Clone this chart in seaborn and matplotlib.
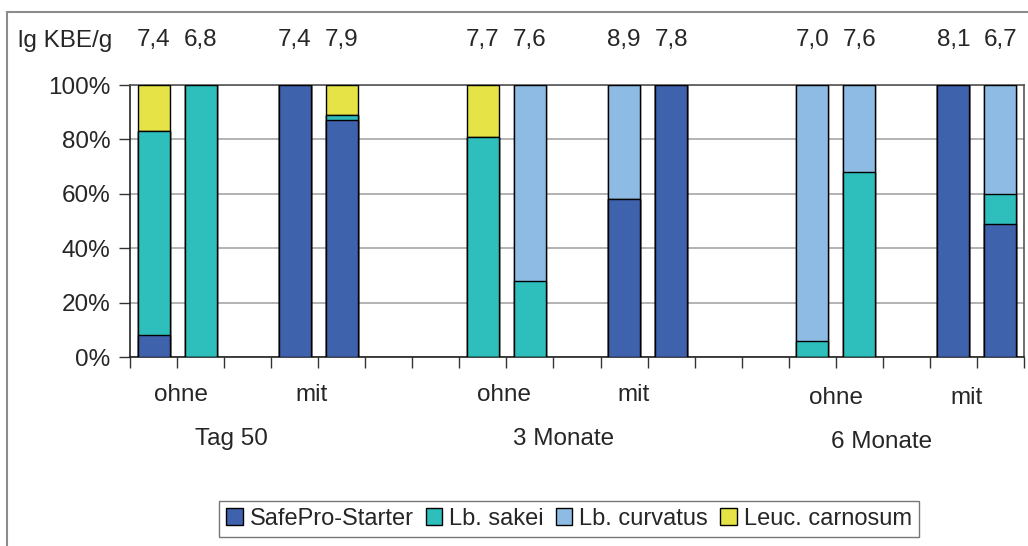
import matplotlib
matplotlib.use("Agg")
import matplotlib.pyplot as plt
import matplotlib.ticker as mticker
from matplotlib.patches import Rectangle, Patch
import pandas as pd
import seaborn as sns

# ── Data ────────────────────────────────────────────────────────────────────
groups    = ["Tag 50", "3 Monate", "6 Monate"]
subgroups = ["ohne", "mit"]
species   = ["SafePro-Starter", "Lb. sakei", "Lb. curvatus", "Leuc. carnosum"]

safepro  = [8, 0, 100, 87, 0, 0, 58, 100, 0, 0, 100, 49]
sakei    = [75, 100, 0, 2, 81, 28, 0, 0, 6, 68, 0, 11]
curvatus = [0, 0, 0, 0, 0, 72, 42, 0, 94, 32, 0, 40]
leuc     = [17, 0, 0, 11, 19, 0, 0, 0, 0, 0, 0, 0]
kbe      = ["7,4", "6,8", "7,4", "7,9", "7,7", "7,6",
            "8,9", "7,8", "7,0", "7,6", "8,1", "6,7"]

colors = ["#3F62AC", "#2EBEBC", "#8DBBE3", "#E6E346"]

# label nudges (in slot units) to mimic the original category-label placement
sub_shift   = [[0.08, -0.15], [-0.05, -0.29], [0.0, -0.23]]
group_shift = [0.15, 0.22, -0.02]

sns.set_theme(style="white")
plt.rcParams["font.family"] = ["Liberation Sans", "DejaVu Sans"]
FS = 17.5

# slot layout: 2 bars per subgroup, 1 empty slot between subgroups, 2 between groups
n_slots = 19
slots = []
for g in range(len(groups)):
    for s in range(len(subgroups)):
        for i in range(2):
            slots.append(7 * g + 3 * s + i)
order = [f"s{k}" for k in range(n_slots)]

df = pd.DataFrame({"slot": [f"s{k}" for k in slots],
                   "SafePro": safepro, "sakei": sakei,
                   "curvatus": curvatus, "leuc": leuc})
df["c1"] = df["SafePro"]
df["c2"] = df["c1"] + df["sakei"]
df["c3"] = df["c2"] + df["curvatus"]
df["c4"] = df["c3"] + df["leuc"]

fig = plt.figure(figsize=(10.28, 5.46), dpi=100)
ax = fig.add_axes([130 / 1028, 1 - 357 / 546, 894 / 1028, 272 / 546])

# stacked bars: draw cumulative totals from the top layer down
for col, c in zip(["c4", "c3", "c2", "c1"], colors[::-1]):
    sns.barplot(data=df, x="slot", y=col, order=order, color=c,
                width=0.68, edgecolor="black", linewidth=1.0,
                saturation=1, ax=ax, zorder=3)

ax.set_ylim(0, 100)
ax.set_xlim(-0.5, n_slots - 0.5)
ax.set_yticks(range(0, 101, 20))
ax.yaxis.set_major_formatter(mticker.FuncFormatter(lambda v, p: f"{v:.0f}%"))
ax.yaxis.grid(True, color="#A6A6A6", linewidth=1.2, zorder=0)
ax.set_axisbelow(True)
ax.set_xlabel("")
ax.set_ylabel("")
ax.set_xticks([k + 0.5 for k in range(-1, n_slots)])
ax.set_xticklabels([])
ax.tick_params(axis="x", direction="out", length=8, width=1, color="#333333", bottom=True)
ax.tick_params(axis="y", direction="out", length=8, width=1, color="#333333",
               left=True, labelsize=FS, pad=6)
for sp in ["left", "bottom"]:
    ax.spines[sp].set_color("#222222")
    ax.spines[sp].set_linewidth(1.2)
for sp in ["top", "right"]:
    ax.spines[sp].set_color("#555555")
    ax.spines[sp].set_linewidth(1.2)

# top labels (lg KBE/g)
trans = ax.get_xaxis_transform()
for k, lab in zip(slots, kbe):
    ax.text(k, 1.165, lab, transform=trans, ha="center", va="center", fontsize=FS)
fig.text(18 / 1028, 1 - 41 / 546, "lg KBE/g", ha="left", va="center", fontsize=FS)

# subgroup and group labels
for g, gname in enumerate(groups):
    for s, sname in enumerate(subgroups):
        ax.text(7 * g + 3 * s + 0.5 + sub_shift[g][s], -0.14 - 0.012 * (g == 2), sname,
                transform=trans, ha="center", va="center", fontsize=FS)
    ax.text(7 * g + 1.5 + group_shift[g], -0.30 - 0.012 * (g == 2), gname,
            transform=trans, ha="center", va="center", fontsize=FS)

# legend
handles = [Patch(facecolor=c, edgecolor="black", linewidth=1) for c in colors]
fig.legend(handles, species, loc="center", bbox_to_anchor=(569 / 1028, 1 - 519 / 546),
           ncol=4, frameon=True, fancybox=False, edgecolor="#555555", fontsize=17,
           handlelength=0.7, handleheight=0.7, handletextpad=0.3, columnspacing=0.5,
           borderpad=0.3, borderaxespad=0)

# outer chart border
fig.patches.append(Rectangle((7 / 1028, -0.05), 1.1, 1 - 12 / 546 + 0.05,
                             transform=fig.transFigure, fill=False,
                             edgecolor="#8C8C8C", linewidth=1.5))

fig.savefig("out.png", dpi=100)
